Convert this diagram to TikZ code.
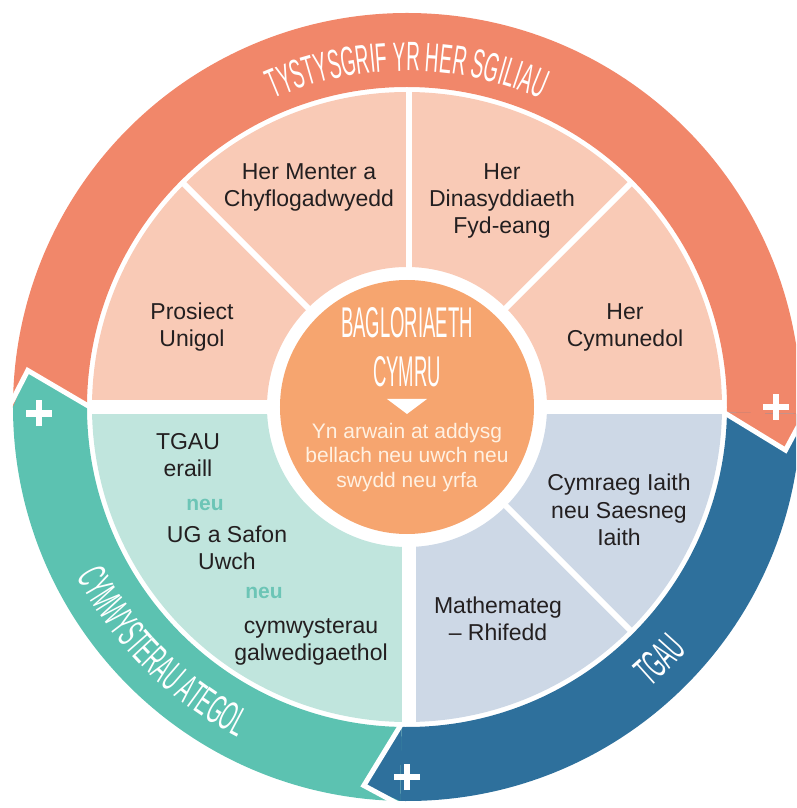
\documentclass[tikz,border=0pt]{standalone}
\usepackage{fontspec}
\setmainfont{Liberation Sans}
\newfontfamily\bandfont[FakeStretch=0.46]{Liberation Sans}
\newfontfamily\ctrfont[FakeStretch=0.43]{Liberation Sans}
\usetikzlibrary{decorations.text}
\definecolor{bandO}{RGB}{241,135,106}
\definecolor{bandT}{RGB}{92,194,177}
\definecolor{bandB}{RGB}{46,112,156}
\definecolor{peach}{RGB}{249,202,182}
\definecolor{tealL}{RGB}{192,229,221}
\definecolor{blueL}{RGB}{205,216,230}
\definecolor{ctr}{RGB}{246,165,111}
\definecolor{ink}{RGB}{35,31,32}
\definecolor{neuc}{RGB}{108,197,182}
\definecolor{subc}{RGB}{255,241,226}
\newcommand{\bandtxt}{\bandfont\fontsize{41}{43}\selectfont}
\begin{document}
\begin{tikzpicture}[x=1pt,y=1pt,
  paneltxt/.style={inner sep=0pt, anchor=base, text=ink, font=\fontsize{23}{27}\selectfont},
  neutxt/.style={inner sep=0pt, anchor=base, text=neuc, font=\bfseries\fontsize{21}{25}\selectfont},
  subtxt/.style={inner sep=0pt, anchor=base, text=subc, font=\fontsize{21}{25}\selectfont},
  titletxt/.style={inner sep=0pt, anchor=base, text=white, font=\ctrfont\fontsize{43}{45}\selectfont},
  gapthin/.style={white, line width=6pt},
  gapwide/.style={white, line width=14pt},
  chev/.style={white, line width=5pt, line join=miter},
  plussign/.style={white, line width=6.5pt},
]
\useasboundingbox (-407,-401) rectangle (389,407);
\clip (-407,-401) rectangle (389,407);

% outer bands (plain sectors)
\fill[bandO] (180:320) arc[start angle=180, end angle=-1, radius=320] -- (-1:394) arc[start angle=-1, end angle=180, radius=394] -- cycle;
\fill[bandB] (-1:320) arc[start angle=-1, end angle=-91, radius=320] -- (-91:394) arc[start angle=-91, end angle=-1, radius=394] -- cycle;
\fill[bandT] (-91:320) arc[start angle=-91, end angle=-180, radius=320] -- (-180:394) arc[start angle=-180, end angle=-91, radius=394] -- cycle;

% chevron ends
\fill[bandO] (-1:320) -- (-6.5:381) -- (-1:394) -- cycle;
\draw[chev] (-1:317) -- (-6.5:381) -- (-1:398);
\fill[bandB] (-91:320) -- (-96.5:381) -- (-91:394) -- cycle;
\draw[chev] (-91:317) -- (-96.5:381) -- (-91:398);
\fill[bandT] (-180:320) -- (-185.5:381) -- (-180:394) -- cycle;
\draw[chev] (-180:317) -- (-185.5:381) -- (-180:398);

% plus signs
\coordinate (plusO) at (0:369);
\coordinate (plusB) at (-90:370);
\coordinate (plusT) at (181:368);
\foreach \p in {plusO,plusB,plusT}{
  \draw[plussign] (\p) ++(-13,0) -- ++(26,0);
  \draw[plussign] (\p) ++(0,-13) -- ++(0,26);
}

% band labels
\path[decorate, decoration={text along path, text={|\bandtxt|TYSTYSGRIF YR HER SGILIAU}, text align=center, text color=white}]
  (125:336) arc[start angle=125, end angle=55, radius=336];
\path[decorate, decoration={text along path, text={|\bandtxt|CYMWYSTERAU ATEGOL}, text align=center, text color=white}]
  (200:371) arc[start angle=200, end angle=250, radius=371];
\path[decorate, decoration={text along path, text={|\bandtxt|TGAU}, text align=center, text color=white}]
  (-65:371) arc[start angle=-65, end angle=-25, radius=371];

% inner panels
\fill[peach] (0:140) arc[start angle=0, end angle=180, radius=140] -- (180:315) arc[start angle=180, end angle=0, radius=315] -- cycle;
\fill[tealL] (180:140) arc[start angle=180, end angle=270, radius=140] -- (270:315) arc[start angle=270, end angle=180, radius=315] -- cycle;
\fill[blueL] (270:140) arc[start angle=270, end angle=360, radius=140] -- (0:315) arc[start angle=360, end angle=270, radius=315] -- cycle;

% panel gaps
\draw[gapwide] (-318,0) -- (318,0);
\draw[gapwide] (1.5,-130) -- (1.5,-318);
\draw[gapthin] (1.5,130) -- (1.5,318);
\draw[gapthin] (45:130) -- (45:318);
\draw[gapthin] (135:130) -- (135:318);
\draw[gapthin] (-45:130) -- (-45:318);

% centre
\node[circle, fill=ctr, minimum size=254pt, inner sep=0pt] (hub) at (0,0) {};
\node[titletxt] (t1) at (0,69) {BAGLORIAETH};
\node[titletxt] (t2) at (0,20) {CYMRU};
\fill[white] (-20,8) -- (20,8) -- (0,-7) -- cycle;
\node[subtxt] (s1) at (0,-31) {Yn arwain at addysg};
\node[subtxt] (s2) at (0,-56) {bellach neu uwch neu};
\node[subtxt] (s3) at (0,-81) {swydd neu yrfa};

% top panels
\node[paneltxt] (a1) at (-98,227) {Her Menter a};
\node[paneltxt] (a2) at (-98,200) {Chyflogadwyedd};
\node[paneltxt] (b1) at (-215,87) {Prosiect};
\node[paneltxt] (b2) at (-215,60) {Unigol};
\node[paneltxt] (c1) at (95,227) {Her};
\node[paneltxt] (c2) at (95,200) {Dinasyddiaeth};
\node[paneltxt] (c3) at (95,173) {Fyd-eang};
\node[paneltxt] (d1) at (218,87) {Her};
\node[paneltxt] (d2) at (218,60) {Cymunedol};

% lower left panel
\node[paneltxt] (e1) at (-219,-43) {TGAU};
\node[paneltxt] (e2) at (-219,-70) {eraill};
\node[neutxt] (n1) at (-202,-103) {neu};
\node[paneltxt] (e3) at (-180,-135) {UG a Safon};
\node[paneltxt] (e4) at (-180,-162) {Uwch};
\node[neutxt] (n2) at (-143,-191) {neu};
\node[paneltxt] (e5) at (-96,-226) {cymwysterau};
\node[paneltxt] (e6) at (-96,-253) {galwedigaethol};

% lower right panels
\node[paneltxt] (f1) at (212,-83) {Cymraeg Iaith};
\node[paneltxt] (f2) at (212,-111) {neu Saesneg};
\node[paneltxt] (f3) at (212,-138) {Iaith};
\node[paneltxt] (g1) at (91,-206) {Mathemateg};
\node[paneltxt] (g2) at (91,-233) {– Rhifedd};
\end{tikzpicture}
\end{document}
